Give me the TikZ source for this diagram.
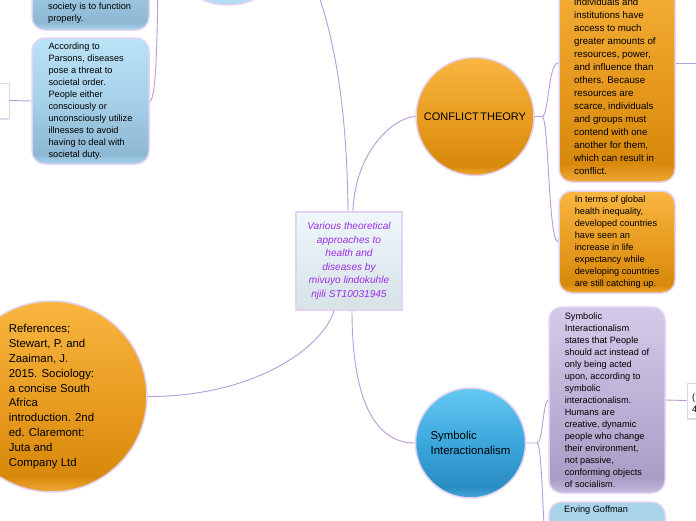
\documentclass[tikz,border=0pt]{standalone}
\usepackage{fontspec}
\setmainfont{Liberation Sans}
\usetikzlibrary{shadows}
\definecolor{or1}{HTML}{F9B641}
\definecolor{or2}{HTML}{E99D22}
\definecolor{or3}{HTML}{D8890B}
\definecolor{or4}{HTML}{EFA836}
\definecolor{bl1}{HTML}{BAE3F7}
\definecolor{bl2}{HTML}{A6D0E8}
\definecolor{bl3}{HTML}{8DB7D3}
\definecolor{bl4}{HTML}{A6D4EE}
\definecolor{sy1}{HTML}{66C9F4}
\definecolor{sy2}{HTML}{3BA7DC}
\definecolor{sy3}{HTML}{2A8CC3}
\definecolor{sy4}{HTML}{48A8D9}
\definecolor{pu1}{HTML}{D4CAE8}
\definecolor{pu2}{HTML}{BDB2D7}
\definecolor{pu3}{HTML}{A89DC5}
\definecolor{pu4}{HTML}{C5BBDF}
\definecolor{rt1}{HTML}{EFF7FB}
\definecolor{rt2}{HTML}{D6E2E6}
\definecolor{rim}{HTML}{E3D3F1}
\definecolor{lineC}{HTML}{B89BD7}
\definecolor{topc}{HTML}{B4DDF3}
\definecolor{boxB}{HTML}{AAD4EA}
\definecolor{rootT}{HTML}{9C2EE6}
\pgfdeclareverticalshading{orsh}{100bp}{color(0bp)=(or4); color(25bp)=(or4); color(29bp)=(or3); color(50bp)=(or2); color(75bp)=(or1); color(100bp)=(or1)}
\pgfdeclareverticalshading{blsh}{100bp}{color(0bp)=(bl4); color(25bp)=(bl4); color(29bp)=(bl3); color(50bp)=(bl2); color(75bp)=(bl1); color(100bp)=(bl1)}
\pgfdeclareverticalshading{sysh}{100bp}{color(0bp)=(sy4); color(25bp)=(sy4); color(30bp)=(sy3); color(50bp)=(sy2); color(75bp)=(sy1); color(100bp)=(sy1)}
\pgfdeclareverticalshading{push}{100bp}{color(0bp)=(pu4); color(25bp)=(pu4); color(29bp)=(pu3); color(50bp)=(pu2); color(75bp)=(pu1); color(100bp)=(pu1)}
\pgfdeclareverticalshading{rtsh}{100bp}{color(0bp)=(rt2); color(25bp)=(rt2); color(75bp)=(rt1); color(100bp)=(rt1)}
\begin{document}
\begin{tikzpicture}[x=1pt,y=-1pt,
  conn/.style={draw=lineC, line width=0.9pt},
  boxbase/.style={rectangle, rounded corners=13pt, draw=rim, line width=1.5pt, inner sep=0pt, align=left, font=\fontsize{9.2}{12}\selectfont},
  orbox/.style={boxbase, shade, shading=orsh},
  bluebox/.style={boxbase, shade, shading=blsh},
  pubox/.style={boxbase, shade, shading=push},
  bbox/.style={boxbase, fill=boxB},
  circbase/.style={circle, draw=rim, line width=1.5pt, inner sep=0pt},
  orcircle/.style={circbase, shade, shading=orsh},
  sycircle/.style={circbase, shade, shading=sysh},
  wbox/.style={rectangle, draw=rim, line width=1pt, fill=white, inner sep=0pt, drop shadow={shadow xshift=0pt, shadow yshift=-2pt, opacity=0.25}},
  txt/.style={inner sep=0pt, align=left, font=\fontsize{9.2}{12}\selectfont}
]
\useasboundingbox (0,0) rectangle (696,520);

% ---------- nodes ----------
\node[circbase, fill=topc, minimum size=130pt] (func) at (228,-60) {};
\node[bluebox, minimum width=117pt, minimum height=100pt] (fbox1) at (90.5,-20) {};
\node[txt, anchor=west] (fbox1t) at (48,13) {society is to function\\properly.};
\node[bluebox, minimum width=117pt, minimum height=126pt] (parsons) at (90.5,101)
  {According to\\Parsons, diseases\\pose a threat to\\societal order.\\People either\\consciously or\\unconsciously utilize\\illnesses to avoid\\having to deal with\\societal duty.};
\node[wbox, minimum width=69pt, minimum height=35pt] (lbox) at (-25.5,100.5) {};

\node[rectangle, draw=rim, line width=1.2pt, shade, shading=rtsh, inner sep=0pt,
      minimum width=106pt, minimum height=98pt, align=center, text=rootT,
      font=\fontsize{10.1}{13.5}\selectfont\itshape] (root) at (349,261)
  {Various theoretical\\approaches to\\health and\\diseases by\\mivuyo lindokuhle\\njili ST10031945};

\node[orcircle, minimum size=118pt, font=\fontsize{11}{13}\selectfont] (conf) at (475,116.5) {CONFLICT\hspace{1.5pt}THEORY};
\node[orbox, minimum width=116pt, minimum height=238pt] (cbox1) at (617,63) {};
\node[txt, anchor=west, font=\fontsize{9.7}{12.95}\selectfont] (cbox1t) at (574,86.5)
  {individuals and\\institutions have\\access to much\\greater amounts of\\resources, power,\\and influence than\\others. Because\\resources are\\scarce, individuals\\and groups must\\contend with one\\another for them,\\which can result in\\conflict.};
\node[orbox, minimum width=116pt, minimum height=102pt] (cbox2) at (617,242)
  {In terms of global\\health inequality,\\developed countries\\have seen an\\increase in life\\expectancy while\\developing countries\\are still catching up.};
\coordinate (off1) at (702,63);

\node[orcircle, minimum size=191pt, align=left, font=\fontsize{11.4}{14.9}\selectfont] (refs) at (51.5,396.5)
  {References;\\Stewart, P. and\\Zaaiman, J.\\2015. Sociology:\\a concise South\\Africa\\introduction. 2nd\\ed. Claremont:\\Juta and\\Company Ltd};

\node[sycircle, minimum size=110pt, align=left, font=\fontsize{11.4}{15}\selectfont] (sym) at (470.5,443) {Symbolic\\Interactionalism};
\node[pubox, minimum width=116pt, minimum height=186pt] (sbox1) at (607,400)
  {Symbolic\\Interactionalism\\states that People\\should act instead of\\only being acted\\upon, according to\\symbolic\\interactionalism.\\Humans are\\creative, dynamic\\people who change\\their environment,\\not passive,\\conforming objects\\of socialism.};
\node[bbox, minimum width=116pt, minimum height=118pt] (sbox2) at (607,561) {};
\node[txt, anchor=west] (sbox2t) at (564,510.5) {Erving Goffman};
\node[wbox, minimum width=73pt, minimum height=35pt] (rbox) at (723.5,400.5) {};
\node[txt, anchor=west] (rboxt) at (692,403) {(\\4};

% ---------- connectors ----------
\draw[conn] ([xshift=-1pt]root.north) .. controls (347,110) and (335,10) .. (func.east);
\draw[conn] ([xshift=4pt]root.north) .. controls (355,150) and (395,117) .. (conf.west);
\draw[conn] ([xshift=3pt]root.south) .. controls (352,400) and (375,443) .. (sym.west);
\draw[conn] ([xshift=-15pt]root.south) .. controls (322,350) and (250,397) .. (refs.east);

\draw[conn] (func.west) -- (158,-60) .. controls (158,40) and (156,101) .. (parsons.east);
\draw[conn] (158,-60) .. controls (158,-40) and (156,-20) .. (fbox1.east);
\draw[conn] (parsons.west) -- (lbox.east);

\draw[conn] (conf.east) -- (542,116.5) .. controls (549,116.5) and (548,63) .. (cbox1.west);
\draw[conn] (542,116.5) .. controls (549,116.5) and (548,242) .. (cbox2.west);
\draw[conn] (cbox1.east) -- (off1);

\draw[conn] (sym.east) -- (537,443) .. controls (543,443) and (543,400) .. (sbox1.west);
\draw[conn] (537,443) .. controls (543,443) and (543,561) .. (sbox2.west);
\draw[conn] (sbox1.east) -- (rbox.west);
\end{tikzpicture}
\end{document}
